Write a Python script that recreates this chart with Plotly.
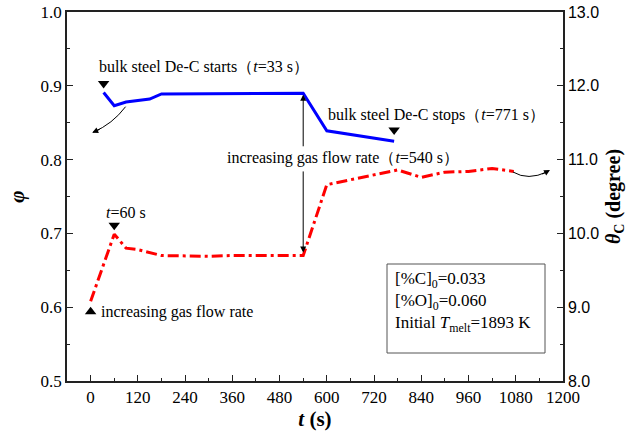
import plotly.graph_objects as go

# ---- data ----
t_blue = [33, 60, 90, 120, 150, 180, 240, 300, 360, 420, 480, 540, 600, 660, 720, 771]
phi_blue = [0.891, 0.873, 0.878, 0.880, 0.882, 0.889, 0.889, 0.889, 0.890, 0.889, 0.890, 0.890,
            0.839, 0.834, 0.829, 0.825]

t_red = [0, 60, 90, 120, 180, 240, 300, 360, 420, 480, 540, 600, 660, 720, 780, 840, 900, 960, 1020, 1075]
theta_red = [9.08, 9.99, 9.80, 9.78, 9.70, 9.69, 9.69, 9.70, 9.70, 9.70, 9.70, 10.66, 10.73, 10.79,
             10.86, 10.76, 10.83, 10.84, 10.88, 10.84]

x_ticks = [0, 120, 240, 360, 480, 600, 720, 840, 960, 1080, 1200]
y_ticks = [0.5, 0.6, 0.7, 0.8, 0.9, 1.0]
y2_ticks = [8.0, 9.0, 10.0, 11.0, 12.0, 13.0]

# event markers
down_t = [33, 771, 60]
down_phi = [0.903, 0.840, 0.711]
up_t = [0]
up_phi = [0.594]

SERIF = "Liberation Serif, Times New Roman, serif"
SANS = "Liberation Sans, Arial, sans-serif"
AX = "#222222"

W, H = 639, 438
L, R, T, B = 67, 76, 12, 57
pw, ph = W - L - R, H - T - B
def px(xp):
    return (xp - L) / pw
def py(yp):
    return 1 - (yp - T) / ph

fig = go.Figure()
fig.add_trace(go.Scatter(x=t_blue, y=phi_blue, mode="lines",
                         line=dict(color="#0000ff", width=3), yaxis="y", showlegend=False))
fig.add_trace(go.Scatter(x=t_red, y=theta_red, mode="lines",
                         line=dict(color="#ff0000", width=3, dash="11px,4px,3px,4px"),
                         yaxis="y2", showlegend=False))
fig.add_trace(go.Scatter(x=down_t, y=down_phi, mode="markers",
                         marker=dict(symbol="triangle-down", size=10, color="black"),
                         yaxis="y", showlegend=False))
fig.add_trace(go.Scatter(x=up_t, y=up_phi, mode="markers",
                         marker=dict(symbol="triangle-up", size=10, color="black"),
                         yaxis="y", showlegend=False))

fs = 16
ann = []
def txt(x, y, s, xa="left", size=fs, ref="data"):
    d = dict(x=x, y=y, text=s, showarrow=False, xanchor=xa,
             yanchor="middle", font=dict(family=SERIF, size=size, color="black"))
    if ref == "data":
        d.update(xref="x", yref="y")
    else:
        d.update(xref="paper", yref="paper")
    ann.append(d)

txt(15, 0.9255, "bulk steel De-C starts（<i>t</i>=33 s）")
txt(598, 0.8600, "bulk steel De-C stops（<i>t</i>=771 s）")
txt(342, 0.8025, "increasing gas flow rate（<i>t</i>=540 s）")
txt(33, 0.729, "<i>t</i>=60 s")
txt(22, 0.594, "increasing gas flow rate")

# vertical arrows at t=540
ann.append(dict(x=540, y=0.888, ax=540, ay=0.816, xref="x", yref="y", axref="x", ayref="y",
                showarrow=True, arrowhead=2, arrowsize=1.2, arrowwidth=1, arrowcolor="black", text=""))
ann.append(dict(x=540, y=0.674, ax=540, ay=0.786, xref="x", yref="y", axref="x", ayref="y",
                showarrow=True, arrowhead=2, arrowsize=1.2, arrowwidth=1, arrowcolor="black", text=""))
# curved arrow heads
ann.append(dict(x=4, y=0.8364, ax=9, ay=-4, xref="x", yref="y",
                showarrow=True, arrowhead=2, arrowsize=1.2, arrowwidth=1, arrowcolor="black", text=""))
ann.append(dict(x=1167, y=0.786, ax=-9, ay=5, xref="x", yref="y",
                showarrow=True, arrowhead=2, arrowsize=1.2, arrowwidth=1, arrowcolor="black", text=""))

# info box texts
txt(px(393), py(280), "[%C]<sub>0</sub>=0.033", size=17, ref="paper")
txt(px(393), py(302), "[%O]<sub>0</sub>=0.060", size=17, ref="paper")
txt(px(393), py(324), "Initial <i>T</i><sub>melt</sub>=1893 K", size=17, ref="paper")

shapes = [
    dict(type="path", xref="x", yref="y", path="M 88.8,0.8717 Q 55.8,0.8482 6,0.8370",
         line=dict(color="black", width=1)),
    dict(type="path", xref="x", yref="y", path="M 1073,0.7832 Q 1111,0.771 1160,0.7835",
         line=dict(color="black", width=1)),
    dict(type="rect", xref="paper", yref="paper", x0=px(387), x1=px(545), y0=py(353), y1=py(264),
         line=dict(color="#555555", width=1)),
]

fig.update_layout(
    width=W, height=H, margin=dict(l=L, r=R, t=T, b=B, autoexpand=False),
    paper_bgcolor="white", plot_bgcolor="white",
    annotations=ann, shapes=shapes,
    xaxis=dict(range=[-60, 1200], tickvals=x_ticks, ticktext=[str(v) for v in x_ticks],
               ticks="inside", ticklen=6, tickwidth=1, tickcolor=AX, automargin=False,
               minor=dict(ticks="inside", ticklen=3, dtick=60, tick0=0, tickcolor=AX),
               showline=True, linecolor=AX, linewidth=1.5, mirror=True, showgrid=False, zeroline=False,
               tickfont=dict(family=SERIF, size=17, color="black"),
               title=dict(text="<b><i>t</i> (s)</b>", font=dict(family=SERIF, size=21, color="black"), standoff=4)),
    yaxis=dict(range=[0.5, 1.0], tickvals=y_ticks, ticktext=["%.1f" % v for v in y_ticks],
               ticks="inside", ticklen=6, tickwidth=1, tickcolor=AX, automargin=False,
               minor=dict(ticks="inside", ticklen=3, dtick=0.05, tick0=0.5, tickcolor=AX),
               showline=True, linecolor=AX, linewidth=1.5, showgrid=False, zeroline=False,
               tickfont=dict(family=SERIF, size=17, color="black"),
               title=dict(text="<b><i>φ</i></b>", font=dict(family=SERIF, size=21, color="black"), standoff=10)),
    yaxis2=dict(range=[8.0, 13.0], tickvals=y2_ticks, ticktext=["%.1f" % v for v in y2_ticks],
                overlaying="y", side="right", automargin=False,
                ticks="inside", ticklen=6, tickwidth=1, tickcolor=AX,
                minor=dict(ticks="inside", ticklen=3, dtick=0.5, tick0=8, tickcolor=AX),
                showline=True, linecolor=AX, linewidth=1.5, showgrid=False, zeroline=False,
                tickfont=dict(family=SANS, size=16, color="black"),
                title=dict(text="<b><i>θ</i><sub>C</sub> (degree)</b>",
                           font=dict(family=SERIF, size=20, color="black"), standoff=8)),
)

fig.write_html("out.html")
